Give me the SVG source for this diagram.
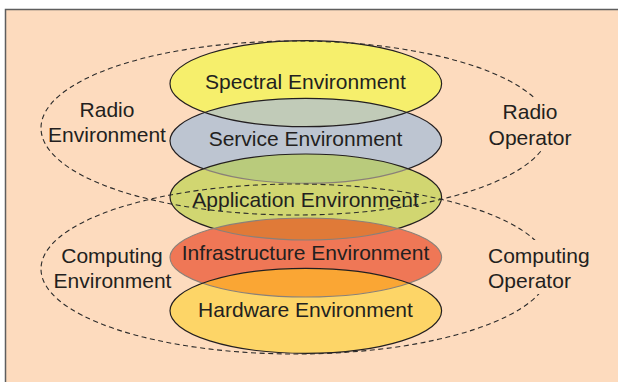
<svg xmlns="http://www.w3.org/2000/svg" width="618" height="382" viewBox="0 0 618 382">
<style>
  .lbl { font-family: "Liberation Sans", Arial, sans-serif; font-size: 21px; fill: #231F20; }
  .mid { text-anchor: middle; }
  .edge { fill: none; stroke: #231F20; stroke-width: 1.2; }
  .soft { fill: none; stroke: #8a8078; stroke-width: 1.1; }
  .dash { fill: none; stroke: #2b2b2b; stroke-width: 1.1; stroke-dasharray: 5 3.5; }
</style>
<defs>
  <ellipse id="eSpec" cx="305.8" cy="83.7" rx="135.8" ry="43"/>
  <ellipse id="eServ" cx="305.8" cy="140.8" rx="135.8" ry="42.5"/>
  <ellipse id="eApp" cx="305.8" cy="197" rx="135.8" ry="43"/>
  <ellipse id="eInf" cx="305.8" cy="257.5" rx="135.8" ry="39.5"/>
  <ellipse id="eHw" cx="305.8" cy="310.8" rx="135.8" ry="42.5"/>
  <clipPath id="cSpec"><use href="#eSpec"/></clipPath>
  <clipPath id="cServ"><use href="#eServ"/></clipPath>
  <clipPath id="cApp"><use href="#eApp"/></clipPath>
  <clipPath id="cInf"><use href="#eInf"/></clipPath>
  <clipPath id="cHw"><use href="#eHw"/></clipPath>
</defs>

<g id="background">
  <rect x="0" y="0" width="618" height="382" fill="#FFFFFF"/>
  <rect x="5.5" y="9.5" width="640" height="400" fill="#FDDBBE" stroke="#5E5E5E" stroke-width="1.5"/>
</g>

<g id="spectral-environment">
  <use href="#eSpec" fill="#F6EF6C"/>
  <use href="#eSpec" class="edge"/>
  <text class="lbl mid" x="305.5" y="89">Spectral Environment</text>
</g>

<g id="service-environment">
  <use href="#eServ" fill="#BDC5D1"/>
  <use href="#eServ" fill="#C1CBB8" clip-path="url(#cSpec)"/>
  <use href="#eSpec" class="edge" clip-path="url(#cServ)"/>
  <use href="#eServ" class="edge"/>
  <text class="lbl mid" x="305.5" y="146">Service Environment</text>
</g>

<g id="application-environment">
  <use href="#eApp" fill="#D1D671"/>
  <use href="#eApp" fill="#B9CB7C" clip-path="url(#cServ)"/>
  <use href="#eServ" class="soft" clip-path="url(#cApp)"/>
  <use href="#eApp" class="edge"/>
  <text class="lbl mid" x="305.5" y="206.7">Application Environment</text>
</g>

<g id="infrastructure-environment">
  <use href="#eInf" fill="#EF7756"/>
  <use href="#eInf" fill="#E07A38" clip-path="url(#cApp)"/>
  <use href="#eApp" class="soft" clip-path="url(#cInf)"/>
  <use href="#eInf" class="soft"/>
  <text class="lbl mid" x="305.5" y="260">Infrastructure Environment</text>
</g>

<g id="hardware-environment">
  <use href="#eHw" fill="#FDD567"/>
  <use href="#eHw" fill="#FAA634" clip-path="url(#cInf)"/>
  <use href="#eInf" class="soft" clip-path="url(#cHw)"/>
  <use href="#eHw" class="edge"/>
  <text class="lbl mid" x="305.5" y="317.3">Hardware Environment</text>
</g>

<g id="radio-domain">
  <ellipse class="dash" cx="295.5" cy="128" rx="254.5" ry="87"/>
</g>

<g id="computing-domain">
  <ellipse class="dash" cx="295.5" cy="269" rx="254.5" ry="85"/>
</g>

<g id="labels">
  <rect x="484" y="98" width="94" height="52" fill="#FDDBBE"/>
  <rect x="484" y="240" width="110" height="54" fill="#FDDBBE"/>
  <text class="lbl mid" x="107" y="117">Radio</text>
  <text class="lbl mid" x="107" y="141.7">Environment</text>
  <text class="lbl mid" x="530" y="119">Radio</text>
  <text class="lbl mid" x="530" y="145">Operator</text>
  <text class="lbl mid" x="112" y="263.3">Computing</text>
  <text class="lbl mid" x="112.5" y="288.3">Environment</text>
  <text class="lbl" x="488" y="262.7">Computing</text>
  <text class="lbl" x="488" y="288.3">Operator</text>
</g>

<g id="connectors"></g>
</svg>
